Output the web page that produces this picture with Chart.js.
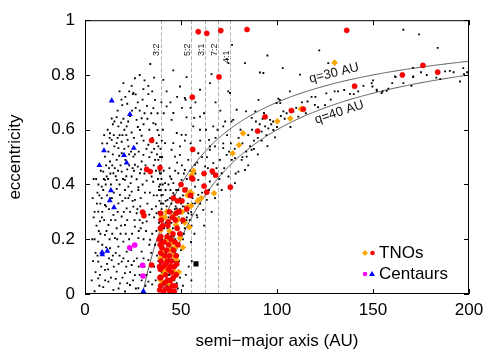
<!DOCTYPE html>
<html>
<head>
<meta charset="utf-8">
<script src="https://cdn.jsdelivr.net/npm/chart.js@4.4.0/dist/chart.umd.min.js"></script>
<style>
  html, body { margin: 0; padding: 0; background: #fff; }
</style>
</head>
<body>
<canvas id="chart" width="500" height="350"></canvas>
<script>
// semi-major axis (AU), eccentricity
const fieldDots = [
  // centaur / inner region
  [24.3,0.76],[25.2,0.734],[26.4,0.729],[22,0.695],[19.4,0.69],[26.4,0.68],[32.3,0.687],[36.5,0.709],[37.8,0.66],
  [16.5,0.646],[13.9,0.641],[15.3,0.63],[18.8,0.626],[26.9,0.636],[29.5,0.642],[35.6,0.624],[21.7,0.612],[17.4,0.612],
  [13,0.587],[24.3,0.59],[28.6,0.599],[37.8,0.599],[13.9,0.563],[16.5,0.551],[19.1,0.556],[22.2,0.563],[29.5,0.578],
  [33,0.545],[38.2,0.539],[17.4,0.533],[15.3,0.539],[22.6,0.539],[10.4,0.502],[19.1,0.514],[25.2,0.502],[30.4,0.508],
  [34.7,0.517],[13,0.484],[16.5,0.49],[26,0.472],[29.5,0.484],[36.5,0.49],[9.5,0.447],[11.3,0.429],[14.8,0.441],
  [19.1,0.447],[24.3,0.429],[28.6,0.441],[34.7,0.429],[10.4,0.417],[16.5,0.417],[20.8,0.417],[26.9,0.419],[32.1,0.414],
  [8.7,0.392],[22.6,0.392],[27.8,0.39],
  [11.8,0.6],[14.5,0.62],[12.2,0.52],[18,0.58],[20.5,0.6],[23.5,0.65],[27.5,0.7],[31,0.66],[33.5,0.6],[35,0.57],
  [30.5,0.56],[27,0.55],[24,0.52],[21,0.49],[18.5,0.47],[15.5,0.46],[12.5,0.46],[17.8,0.505],[23,0.47],[31.5,0.47],
  [33.5,0.5],[37,0.45],[35.5,0.41],[30,0.4],[25.5,0.45],[21.5,0.43],[13.5,0.4],[18,0.4],[23.8,0.405],[11,0.47],
  [9,0.55],[10,0.58],[28.5,0.8],[31,0.78],[34,0.84],[36,0.79],[26,0.788],[25,0.73],[30.4,0.748],[35.6,0.679],
  [33,0.73],[21,0.72],[18,0.74],[20,0.77],
  [5,0.3],[6,0.25],[7,0.4],[7.5,0.36],[8.2,0.45],[9.8,0.42],[10.8,0.4],[12,0.42],[13.2,0.44],[14.2,0.47],[16,0.43],
  [17.2,0.45],[19.8,0.42],[22,0.455],[24.8,0.46],[27.5,0.465],[29.2,0.455],[31,0.44],[33,0.45],[35.8,0.47],[37.5,0.51],
  [36,0.53],[32,0.53],[28,0.52],[26,0.51],[23,0.51],[20.5,0.53],[14.5,0.51],[11.5,0.55],[12.8,0.57],[15,0.58],
  [17,0.57],[19.5,0.58],[21.5,0.58],[25.5,0.57],[27.5,0.61],[30.5,0.62],[32.5,0.64],[34.5,0.66],[20,0.64],[22.5,0.63],
  [24.5,0.67],[28.5,0.67],[30,0.71],[17,0.67],[19,0.71],[23,0.74],[33,0.76],[35,0.74],
  [9.5,0.38],[16.5,0.384],[20.8,0.38],[24.3,0.374],[27.8,0.38],[8.7,0.35],[18.2,0.362],[22.6,0.35],[26,0.344],
  [10.4,0.325],[17.4,0.331],[21.7,0.313],[25.2,0.319],[6.9,0.301],[14.8,0.289],[19.1,0.283],[26.9,0.295],[7.8,0.265],
  [12.2,0.252],[16.5,0.24],[20.8,0.252],[26,0.246],[32.1,0.265],[10.4,0.216],[15.6,0.204],[20,0.191],[27.8,0.204],
  [33.9,0.198],[6.9,0.191],[13,0.167],[17.4,0.173],[21.7,0.155],[29.5,0.155],[9.5,0.149],[6.9,0.118],[13.9,0.124],
  [19.1,0.118],[24.3,0.106],[33,0.124],[10.4,0.088],[16.5,0.082],[20.8,0.076],[26,0.069],[6.9,0.057],[12.2,0.045],
  [18.2,0.039],[23.4,0.033],[27.8,0.021],[33,0.045],[14.8,0.015],[20.8,0.009],
  [4,0.35],[4.5,0.28],[5,0.2],[4.2,0.12],[5.5,0.08],[3.5,0.05],[5.8,0.42],[6.2,0.33],[8,0.22],[9,0.3],[11.5,0.36],
  [12.5,0.31],[14,0.35],[15,0.37],[13.5,0.27],[17,0.3],[19.5,0.34],[22,0.27],[23.5,0.3],[24.5,0.22],[23,0.2],
  [18.5,0.22],[16,0.15],[11,0.17],[8.5,0.1],[11.5,0.11],[15,0.1],[22.5,0.12],[27,0.13],[30.5,0.2],[31,0.1],
  [28.5,0.07],[25,0.05],[31.5,0.03],[35,0.035],[34,0.08],[36,0.1],[32.5,0.33],[29,0.35],[31,0.3],[28.5,0.27],
  [35,0.22],[36,0.28],[37,0.32],[36.5,0.18],[34.5,0.15],[29,0.24],[9.5,0.025],[7.5,0.03],[16,0.055],[19.5,0.06],
  [12,0.09],[26.5,0.18],[24,0.16],[18,0.14],
  [5.5,0.15],[6.5,0.14],[7.2,0.23],[8.8,0.28],[10,0.27],[11.2,0.23],[12.8,0.2],[14.2,0.22],[15.8,0.27],[16.8,0.2],
  [18.8,0.25],[20.2,0.3],[21.2,0.22],[22.8,0.17],[25.8,0.27],[27.3,0.31],[28,0.23],[30,0.26],[31.8,0.23],[33.5,0.29],
  [34.8,0.31],[35.8,0.36],[33.8,0.37],[31.2,0.37],[28.8,0.32],[24.8,0.34],[23.2,0.36],[21,0.35],[13,0.35],[11,0.32],
  [8,0.33],[6.5,0.37],[7.8,0.07],[9,0.18],[10.5,0.05],[13.5,0.06],[14.5,0.14],[17.5,0.11],[20,0.13],[21.5,0.1],
  [23.5,0.08],[25.5,0.12],[28,0.1],[29.5,0.05],[32,0.07],[33.5,0.18],[36.8,0.05],[37.5,0.14],[37.2,0.23],[17.5,0.02],
  [22,0.04],[26.5,0.02],[30.5,0.13],[12.5,0.13],[5,0.01],[3.8,0.2],[4.5,0.42],
  // 3:2 column
  [39.3,0.53],[39.6,0.5],[39.2,0.47],[39.5,0.44],[39.8,0.42],[39.1,0.4],[39.4,0.38],[39.7,0.36],[38.8,0.34],
  [39.5,0.33],[39.9,0.31],[39.2,0.29],[39.6,0.27],[39.3,0.25],[39.8,0.23],[39.0,0.21],[39.5,0.19],[39.2,0.17],
  [39.7,0.15],[39.4,0.13],[39.1,0.11],[39.6,0.09],[39.3,0.07],[39.8,0.05],[39.5,0.03],[38.6,0.26],[38.4,0.18],
  [38.2,0.12],[40.2,0.2],[40.4,0.14],[40.1,0.08],[38.9,0.06],[40.3,0.28],[38.5,0.38],
  [38.8,0.45],[38.4,0.3],[37.5,0.36],[38,0.42],[39,0.5],[40,0.56],[38.5,0.58],[40.6,0.6],[36.8,0.62],
  // classical belt
  [41.5,0.02],[42,0.05],[42.5,0.09],[43,0.03],[43.5,0.13],[44,0.07],[44.5,0.17],[45,0.02],[45.5,0.1],[46,0.15],
  [46.5,0.05],[47,0.2],[47.5,0.1],[48,0.17],[42.2,0.15],[41.8,0.2],[43.2,0.22],[44.2,0.26],[45.8,0.24],[46.8,0.28],
  [48.5,0.22],[47.8,0.04],[41,0.1],[42.8,0.18],[44.8,0.21],[43.8,0.01],[46.2,0.01],[48.3,0.02],[49,0.12],[49.5,0.06],
  [50,0.16],[51,0.2],[50.5,0.26],[52,0.24],[48.8,0.28],[47.2,0.32],[45.2,0.3],[43.5,0.28],[42,0.26],[41.2,0.24],
  [40.8,0.33],[42.5,0.32],[44.2,0.35],[46.5,0.36],[48,0.34],[50,0.33],[51.5,0.3],[53,0.28],[54.5,0.27],
  [55.4,0.05],[55.6,0.12],[55.2,0.19],[55.5,0.25],[55.3,0.3],[56,0.33],[54,0.1],[52.5,0.07],[51,0.03],[57,0.22],
  [58.5,0.28],[62,0.25],[66,0.3],
  [45,0.33],[46.8,0.31],[49.5,0.31],[51,0.32],[53.5,0.33],[55.5,0.29],[52.8,0.27],[49.8,0.27],[47.5,0.25],[45,0.26],
  [43,0.24],[46.2,0.21],[49,0.2],[51.5,0.22],[48.5,0.14],[47,0.08],[45.5,0.17],[43.5,0.07],[42,0.13],[44.8,0.04],
  [46.8,0.12],[40.5,0.04],[40.8,0.17],
  // scattered disk between the curves
  [41.7,0.551],[45.1,0.527],[46.9,0.502],[49.4,0.508],[53.8,0.49],[59,0.514],[65,0.527],[67.7,0.539],[72,0.533],
  [73.8,0.508],[78.1,0.496],[81.6,0.49],[84.2,0.502],[86.8,0.527],[70.3,0.49],[66.8,0.478],[62.5,0.466],[57.3,0.472],
  [52,0.453],[48.6,0.441],[44.3,0.429],[41.7,0.405],[46,0.405],[50.3,0.417],[59,0.417],[65,0.411],[71.2,0.441],
  [74.7,0.429],[79.9,0.447],[83.3,0.453],[78.1,0.405],[71.2,0.38],[67.7,0.35],[57.3,0.392],[53,0.386],[48.6,0.38],
  [46,0.368],[40.5,0.362],[43,0.344],[49.5,0.35],[53.8,0.356],[59,0.362],[63.4,0.344],[57.3,0.331],[52,0.319],
  [47.7,0.313],[44.3,0.301],[53.8,0.295],[61.6,0.307],[58.2,0.288],[38.2,0.49],[39,0.441],[38.6,0.392],[39.9,0.331],
  [37.3,0.295],
  [40.5,0.4],[41,0.45],[40.2,0.5],[42,0.38],[43.5,0.4],[45,0.42],[44,0.46],[47,0.45],[48,0.48],[50.5,0.47],
  [51.5,0.44],[53,0.42],[55,0.45],[57.5,0.44],[58.5,0.48],[61,0.5],[63.5,0.5],[64,0.46],[66,0.44],[68.5,0.46],
  [70,0.42],[72.5,0.46],[69,0.4],[64.5,0.38],[61,0.37],[60,0.33],[56,0.35],[51,0.36],[47.5,0.38],[44.5,0.38],[42,0.34],
  [41,0.66],[39.8,0.7],[42.5,0.74],[44.5,0.7],[48,0.72],[50.5,0.68],[55,0.68],[57.5,0.7],[62,0.66],[68,0.7],
  [70.5,0.67],[73,0.63],[69,0.6],[63,0.6],[60,0.56],[55,0.55],[52,0.56],[68,0.57],[74,0.58],[72,0.55],[75,0.52],
  [76.5,0.49],[78.5,0.44],[82,0.5],[85,0.47],[88,0.53],[90,0.51],[92,0.56],[95,0.54],[98,0.63],[100,0.61],[104,0.64],
  [107,0.61],[110,0.68],[115,0.66],[120,0.72],[125,0.69],[130,0.74],[140,0.73],[150,0.78],[158,0.75],[165,0.8],
  [170,0.76],[178,0.8],[183,0.79],[192,0.81],
  [85,0.58],[87,0.6],[88,0.56],[82,0.55],[84,0.52],[86,0.54],[90,0.57],[91,0.62],[80,0.57],[78,0.53],[76,0.55],
  [81,0.6],[89,0.63],[92.5,0.64],[94.5,0.58],[97,0.62],[102,0.65],[105,0.66],[113,0.7],[118,0.72],[128,0.71],
  [135,0.745],[145,0.76],[160,0.77],[175,0.81],[185,0.785],[190,0.815],[199,0.81],
  // high eccentricity
  [40.8,0.782],[49.5,0.758],[52.4,0.709],[59.9,0.746],[65.1,0.77],[73.8,0.858],[74.7,0.843],[75.5,0.734],[42.5,0.685],
  [46,0.661],[59.9,0.648],[47.8,0.588],[50.3,0.581],[59.9,0.6],[66.8,0.612],[37.3,0.551],[46,0.551],[49.5,0.539],
  [65.1,0.539],[77.2,0.636],[79,0.673],[46,0.817],[52.9,0.792],[65.9,0.803],[76.6,0.91],[83.3,0.843],[91.1,0.809],
  [52,0.716],[74.6,0.74],[45.1,0.636],[52.9,0.645],[56.9,0.643],[72,0.612],[76.3,0.63],[86.8,0.643],[90.4,0.709],
  [83.9,0.667],[64.6,0.563],[52.5,0.581],[56.4,0.612],
  [165.8,0.965],[174,0.948],[183.7,0.899],[122,0.89],[95,0.871],[103,0.825],[92.9,0.807],[112,0.801],[126.7,0.843],
  [131.8,0.74],[142.3,0.74],[149.3,0.77],[149.7,0.758],[151.9,0.746],[155,0.74],[157.1,0.742],[161.4,0.795],
  [165.8,0.77],[171,0.795],[187.5,0.813],[197,0.825],[197.4,0.803],[195.3,0.776],[106.7,0.74],[101.5,0.709],
  [99.8,0.697],[115.9,0.703],[119.7,0.691],[121.4,0.682],[125.7,0.733],[138,0.731],[93.2,0.661],[103.3,0.667],
  [96.4,0.636],[93.8,0.612],[95.5,0.605],[98.1,0.599],[99,0.572],[92,0.593],[111.1,0.648],[108.5,0.667],
  [170.8,0.826],[170.8,0.792],[161.8,0.792],[154.5,0.734],[152,0.742],[100.7,0.713],[101.7,0.697],[88.7,0.667]
];
const tnoOrange = [
  [130,0.845],[112.5,0.676],[100.2,0.631],[106.9,0.641],[82.3,0.587],[80.2,0.544],[76.9,0.514],[55.5,0.434],
  [67.2,0.368],[54.7,0.372],[53.3,0.361],[58.7,0.341],[53.3,0.318],[55.2,0.322],[46.2,0.285],[55.6,0.368],
  [54.3,0.244],[49.5,0.204],[47.4,0.252],[45.7,0.283],[39.9,0.283],[39.4,0.234],[42.5,0.124],[41.7,0.082],
  [46.4,0.082],[44.3,0.161],[47.7,0.124],[45.1,0.185],[39.3,0.13],[39.6,0.18],[39.5,0.05],[43.5,0.04],[45,0.05],
  [42.8,0.2],[48.5,0.27],[50.5,0.3],[52,0.26],[51,0.17],[44,0.23],[41,0.16],[40.5,0.07],[47,0.17],[43.2,0.1],
  [46.2,0.14],[48.8,0.08],[41.5,0.28],[42.5,0.3],[60.5,0.35],[56.5,0.45]
];
const tnoRed = [
  [59,0.958],[63.4,0.952],[70.7,0.962],[84.4,0.966],[136.3,0.963],[69.8,0.793],[55.9,0.719],[34.7,0.561],
  [56.1,0.528],[32.1,0.455],[34,0.447],[39.1,0.461],[62,0.44],[66.3,0.449],[68,0.434],[56.1,0.42],[62,0.394],
  [63.4,0.372],[75.7,0.39],[176,0.835],[165.3,0.8],[183.7,0.81],[140.4,0.759],[93.8,0.647],[107.5,0.67],
  [113.7,0.675],[89.9,0.595],[30,0.299],[30.7,0.286],[34.7,0.106],[39.4,0.295],[47.4,0.295],[43.4,0.264],
  [48.6,0.301],[55.6,0.423],
  [39.4,0.03],[39.5,0.06],[39.3,0.09],[39.6,0.12],[39.4,0.15],[39.2,0.18],[39.5,0.21],[39.3,0.24],[39.6,0.27],
  [38.7,0.2],[38.8,0.1],[40,0.17],[38.9,0.015],[39,0.06],
  [41,0.01],[41.5,0.04],[42,0.07],[42.5,0.02],[43,0.05],[43.5,0.09],[44,0.02],[44.5,0.05],[45,0.08],[45.5,0.03],
  [46,0.06],[46.5,0.1],[47,0.03],[47.5,0.07],[43,0.12],[44,0.14],[45,0.12],[46,0.16],[42,0.11],[42.5,0.16],
  [43.5,0.18],[44.5,0.1],[44.8,0.2],[45.8,0.22],[46.8,0.19],[47.5,0.14],[48,0.24],[41.5,0.14],[43.2,0.25],
  [47,0.27],[49,0.3],[45.5,0.28],[44,0.3],[50.5,0.34],[52,0.38],[48.2,0.34],[50,0.4],[46,0.35],[42.8,0.21],
  [41.2,0.19],[40.5,0.25],[40.8,0.1],[44.2,0.005],[46.5,0.01],[47.8,0.11],[48.5,0.18],[49.5,0.22],[51,0.27],
  [53,0.31],[55,0.36]
];
const centaurMagenta = [[23.3,0.169],[25.9,0.179],[30,0.105],[30.2,0.066]];
const centaurBlue = [
  [13.9,0.706],[23.4,0.656],[9.9,0.524],[20.3,0.507],[25.4,0.533],[21.7,0.479],[7.5,0.47],[13.5,0.378],
  [12.9,0.341],[15.1,0.316],[8.9,0.152],[9,0.144],[11.6,0.157],[30.4,0.01]
];
const oddSquare = [[57.8,0.11]];

const resonanceA = [39.4, 55.4, 62.6, 69.4, 75.7];
const resonanceNames = ['3:2', '5:2', '3:1', '7:2', '4:1'];
const perihelionQ = [30, 40];
const perihelionNames = ['q=30 AU', 'q=40 AU'];
const xTicks = [0, 50, 100, 150, 200];
const yTicks = [0, 0.2, 0.4, 0.6, 0.8, 1];

const FONT = "'Liberation Sans', Arial, Helvetica, sans-serif";

function toXY(list) {
  return list.map(p => ({x: p[0], y: p[1]}));
}

const framePlugin = {
  id: 'frame',
  beforeDatasetsDraw(chart) {
    const ctx = chart.ctx;
    const xs = chart.scales.x, ys = chart.scales.y;
    const area = chart.chartArea;
    ctx.save();
    // resonance lines
    ctx.strokeStyle = '#b4b4b4';
    ctx.lineWidth = 1;
    ctx.setLineDash([4, 2]);
    resonanceA.forEach(a => {
      const px = Math.round(xs.getPixelForValue(a)) + 0.5;
      ctx.beginPath();
      ctx.moveTo(px, area.top);
      ctx.lineTo(px, area.bottom);
      ctx.stroke();
    });
    ctx.setLineDash([]);
    ctx.fillStyle = '#222';
    ctx.font = '9px ' + FONT;
    ctx.textBaseline = 'middle';
    ctx.textAlign = 'left';
    resonanceNames.forEach((name, i) => {
      const px = xs.getPixelForValue(resonanceA[i]) - 4;
      const drop = i === 4 ? 7 : 0;
      ctx.save();
      ctx.translate(px, 56 + drop);
      ctx.rotate(-Math.PI / 2);
      ctx.fillText(name, 0, 0);
      ctx.restore();
    });
    // constant perihelion curves
    ctx.beginPath();
    ctx.rect(area.left, area.top, area.right - area.left, area.bottom - area.top);
    ctx.clip();
    ctx.strokeStyle = '#555';
    ctx.lineWidth = 1;
    perihelionQ.forEach(q => {
      ctx.beginPath();
      for (let a = q; a <= 200; a += 0.5) {
        const px = xs.getPixelForValue(a);
        const py = ys.getPixelForValue(1 - q / a);
        if (a === q) ctx.moveTo(px, py); else ctx.lineTo(px, py);
      }
      ctx.stroke();
    });
    ctx.restore();

    ctx.save();
    ctx.fillStyle = '#111';
    ctx.font = '13px ' + FONT;
    ctx.textAlign = 'center';
    ctx.textBaseline = 'middle';
    perihelionQ.forEach((q, i) => {
      const a = 131;
      const px = xs.getPixelForValue(a);
      const py = ys.getPixelForValue(1 - q / a);
      const px2 = xs.getPixelForValue(a + 1);
      const py2 = ys.getPixelForValue(1 - q / (a + 1));
      const ang = Math.atan2(py2 - py, px2 - px);
      const off = i === 0 ? -10 : 9;
      ctx.save();
      ctx.translate(px - Math.sin(ang) * off, py + Math.cos(ang) * off);
      ctx.rotate(ang);
      ctx.fillText(perihelionNames[i], 0, 0);
      ctx.restore();
    });
    ctx.restore();
  },
  afterDraw(chart) {
    const ctx = chart.ctx;
    const xs = chart.scales.x, ys = chart.scales.y;
    const a = chart.chartArea;
    ctx.save();
    ctx.strokeStyle = '#000';
    ctx.lineWidth = 1;
    ctx.strokeRect(a.left + 0.5, a.top + 0.5, a.right - a.left - 1, a.bottom - a.top - 1);
    ctx.beginPath();
    xTicks.forEach(v => {
      const px = Math.round(xs.getPixelForValue(v)) + 0.5;
      ctx.moveTo(px, a.bottom); ctx.lineTo(px, a.bottom - 5);
      ctx.moveTo(px, a.top); ctx.lineTo(px, a.top + 5);
    });
    yTicks.forEach(v => {
      const py = Math.round(ys.getPixelForValue(v)) + 0.5;
      ctx.moveTo(a.left, py); ctx.lineTo(a.left + 5, py);
      ctx.moveTo(a.right, py); ctx.lineTo(a.right - 5, py);
    });
    ctx.stroke();

    // legend
    ctx.font = '17px ' + FONT;
    ctx.fillStyle = '#000';
    ctx.textAlign = 'left';
    ctx.textBaseline = 'middle';
    ctx.fillText('TNOs', 379, 253);
    ctx.fillText('Centaurs', 379, 274);
    ctx.fillStyle = '#ffa500';
    ctx.beginPath();
    ctx.moveTo(365, 250); ctx.lineTo(368, 253); ctx.lineTo(365, 256); ctx.lineTo(362, 253);
    ctx.closePath(); ctx.fill();
    ctx.fillStyle = '#ff0000';
    ctx.beginPath(); ctx.arc(372.5, 253, 2.3, 0, Math.PI * 2); ctx.fill();
    ctx.fillStyle = '#ff00ff';
    ctx.beginPath(); ctx.arc(365, 274, 2.3, 0, Math.PI * 2); ctx.fill();
    ctx.fillStyle = '#0000ff';
    ctx.beginPath();
    ctx.moveTo(372, 271); ctx.lineTo(375, 276); ctx.lineTo(369, 276);
    ctx.closePath(); ctx.fill();
    ctx.restore();
  }
};

new Chart(document.getElementById('chart'), {
  type: 'scatter',
  data: {
    datasets: [
      {label: 'Centaurs', data: toXY(centaurBlue), pointStyle: 'triangle', pointRadius: 3.4,
        backgroundColor: '#0000ff', borderColor: '#0000ff', borderWidth: 0, order: 1},
      {label: 'Centaurs', data: toXY(centaurMagenta), pointStyle: 'circle', pointRadius: 2.8,
        backgroundColor: '#ff00ff', borderColor: '#ff00ff', borderWidth: 0, order: 2},
      {label: 'TNOs', data: toXY(tnoRed), pointStyle: 'circle', pointRadius: 2.6,
        backgroundColor: '#ff0000', borderColor: '#e00000', borderWidth: 0.5, order: 3},
      {label: 'TNOs', data: toXY(tnoOrange), pointStyle: 'rectRot', pointRadius: 3.3,
        backgroundColor: '#ffa500', borderColor: '#ffa500', borderWidth: 0, order: 4},
      {label: 'other', data: toXY(oddSquare), pointStyle: 'rect', pointRadius: 3.6,
        backgroundColor: '#000', borderColor: '#000', borderWidth: 0, order: 5},
      {label: 'all', data: toXY(fieldDots), pointStyle: 'rect', pointRadius: 1.3,
        backgroundColor: '#000', borderColor: '#000', borderWidth: 0, order: 6}
    ]
  },
  options: {
    responsive: false,
    animation: false,
    devicePixelRatio: 1,
    layout: {padding: {top: 20, right: 31, left: 0, bottom: 0}},
    plugins: {legend: {display: false}, tooltip: {enabled: false}},
    elements: {point: {hoverRadius: 0}},
    scales: {
      x: {
        type: 'linear', min: 0, max: 200,
        afterFit: s => { s.height = 56; },
        afterBuildTicks: s => { s.ticks = xTicks.map(v => ({value: v})); },
        grid: {display: false, drawTicks: false},
        border: {display: false},
        ticks: {color: '#000', font: {family: FONT, size: 17}, padding: 6, maxRotation: 0},
        title: {display: true, text: 'semi\u2212major axis (AU)', color: '#000',
          font: {family: FONT, size: 17}, padding: {top: 0, bottom: -2}}
      },
      y: {
        type: 'linear', min: 0, max: 1,
        afterFit: s => { s.width = 85; },
        afterBuildTicks: s => { s.ticks = yTicks.map(v => ({value: v})); },
        grid: {display: false, drawTicks: false},
        border: {display: false},
        ticks: {color: '#000', font: {family: FONT, size: 17}, padding: 10,
          callback: v => String(Math.round(v * 10) / 10)},
        title: {display: true, text: 'eccentricity', color: '#000',
          font: {family: FONT, size: 17}, padding: {top: 5, bottom: 0}}
      }
    }
  },
  plugins: [framePlugin]
});
</script>
</body>
</html>
